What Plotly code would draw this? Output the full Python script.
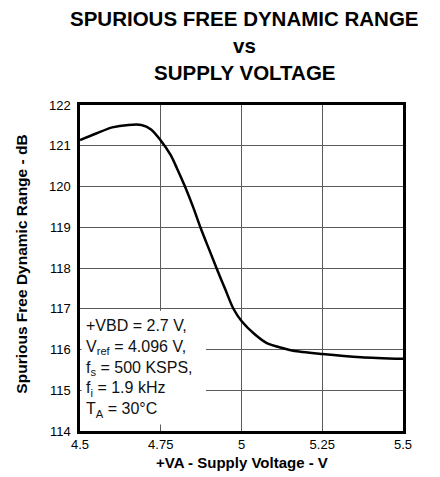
import plotly.graph_objects as go

voltage = [4.5, 4.55, 4.6, 4.65, 4.69, 4.72, 4.75, 4.78, 4.8, 4.825, 4.85, 4.875,
           4.9, 4.925, 4.95, 4.975, 5.0, 5.04, 5.08, 5.13, 5.16, 5.25, 5.37, 5.5]
sfdr = [121.14, 121.3, 121.45, 121.51, 121.51, 121.4, 121.13, 120.78, 120.45, 120.0, 119.5, 118.95,
        118.45, 117.95, 117.47, 117.0, 116.7, 116.38, 116.15, 116.03, 115.97, 115.89, 115.81, 115.77]

x_ticks = [4.5, 4.75, 5, 5.25, 5.5]
x_tick_text = ["4.5", "4.75", "5", "5.25", "5.5"]
y_ticks = [114, 115, 116, 117, 118, 119, 120, 121, 122]

title_lines = ["SPURIOUS FREE DYNAMIC RANGE", "vs", "SUPPLY VOLTAGE"]
x_title = "+VA - Supply Voltage - V"
y_title = "Spurious Free Dynamic Range - dB"
note_lines = ["+VBD = 2.7 V,", "V<sub>ref</sub> = 4.096 V,", "f<sub>s</sub> = 500 KSPS,",
              "f<sub>i</sub> = 1.9 kHz", "T<sub>A</sub> = 30°C"]

FONT = "Liberation Sans, Arial, sans-serif"

fig = go.Figure()
fig.add_trace(go.Scatter(x=voltage, y=sfdr, mode="lines",
                         line=dict(color="black", width=2.5, shape="spline", smoothing=0.8),
                         showlegend=False, hoverinfo="skip"))

fig.add_shape(type="rect", xref="x", yref="y", x0=4.505, x1=4.89, y0=114.16, y1=116.95,
              fillcolor="white", line=dict(width=0), layer="between")

fig.add_annotation(x=4.512, y=116.84, xref="x", yref="y", xanchor="left", yanchor="top",
                   text="<br>".join(note_lines), showarrow=False, align="left",
                   font=dict(family=FONT, size=16, color="#111"))

for txt, py in zip(title_lines, [1.2653, 1.1825, 1.0997]):
    fig.add_annotation(x=0.51, y=py, xref="paper", yref="paper", xanchor="center",
                       yanchor="middle", text="<b>" + txt + "</b>", showarrow=False,
                       font=dict(family=FONT, size=20.5, color="black"))

fig.add_annotation(x=0.5, y=-0.098, xref="paper", yref="paper", xanchor="center",
                   yanchor="middle", text="<b>" + x_title + "</b>", showarrow=False,
                   font=dict(family=FONT, size=15, color="black"))
fig.add_annotation(x=-0.181, y=0.512, xref="paper", yref="paper", xanchor="center",
                   yanchor="middle", textangle=-90, text="<b>" + y_title + "</b>",
                   showarrow=False, font=dict(family=FONT, size=15.5, color="black"))

fig.update_layout(
    width=432, height=469,
    margin=dict(l=72, r=37, t=97, b=46, autoexpand=False),
    paper_bgcolor="white", plot_bgcolor="white",
    font=dict(family=FONT, size=13, color="black"),
    xaxis=dict(range=[4.5, 5.5], tickvals=x_ticks, ticktext=x_tick_text,
               showgrid=True, gridcolor="#5a5a5a", gridwidth=1,
               showline=True, linecolor="black", linewidth=2.5, mirror=True,
               ticks="", zeroline=False, automargin=False),
    yaxis=dict(range=[114, 122], tickvals=y_ticks,
               showgrid=True, gridcolor="#5a5a5a", gridwidth=1,
               showline=True, linecolor="black", linewidth=2.5, mirror=True,
               ticks="outside", ticklen=4, tickcolor="rgba(0,0,0,0)",
               zeroline=False, automargin=False),
)

fig.write_html("out.html")
